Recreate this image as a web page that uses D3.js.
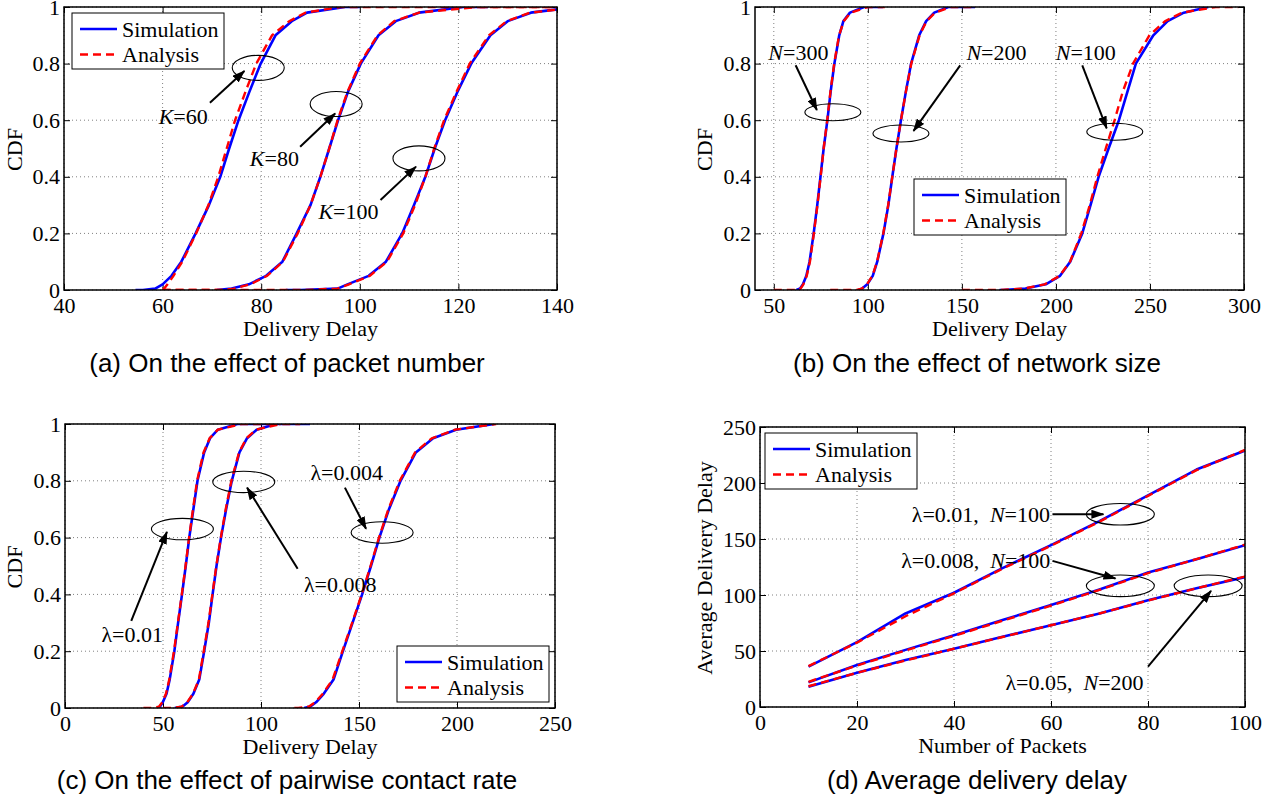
<!DOCTYPE html>
<html>
<head>
<meta charset="utf-8">
<script src="https://cdn.jsdelivr.net/npm/d3@7"></script>
<style>
  body { margin: 0; background: #fff; }
  svg { display: block; }
</style>
</head>
<body>
<svg id="fig" width="1277" height="802"></svg>
<script>
var SERIF = '"Liberation Serif", "Times New Roman", serif';
var SANS = '"Liberation Sans", Arial, sans-serif';

// CDF levels shared by every delay curve; each curve lists the delay where the level is reached
var cdfLevels = [0, 0.005, 0.02, 0.05, 0.1, 0.2, 0.3, 0.4, 0.5, 0.6, 0.7, 0.8, 0.9, 0.95, 0.98, 1];

// (a) packet number
var k60Sim = [56, 58.5, 60, 61.8, 63.8, 66.7, 69.4, 71.7, 73.5, 75.4, 77.6, 79.9, 82.9, 86.2, 89.3, 97];
var k60Ana = [60, 60.3, 61, 62.2, 64, 66.8, 69.3, 71.3, 73, 74.7, 76.8, 79, 82.2, 85.7, 89, 96];
var k80Sim = [71, 74, 77.5, 81, 84.3, 87.2, 90, 92, 93.8, 95.6, 97.6, 100.2, 103.8, 107.3, 112, 121];
var k80Ana = [72, 74.5, 77.8, 81.2, 84.4, 87.4, 90, 92, 93.8, 95.5, 97.5, 100, 103.6, 107, 112, 124];
var k100Sim = [88, 95.5, 97.5, 101.8, 105.3, 108.6, 111, 113.3, 115.2, 117.3, 119.8, 122.6, 126.5, 130, 134.7, 144];
var k100Ana = [89, 95.5, 97.8, 102, 105.5, 108.8, 111.2, 113.3, 115.1, 117.1, 119.6, 122.3, 126.2, 129.8, 134.5, 145];
// where each curve is drawn flat at 0 (start) and at 1 (end)
var k60SimSpan = [54.5, 100], k60AnaSpan = [60, 140];
var k80SimSpan = [71, 126], k80AnaSpan = [60, 140];
var k100SimSpan = [85, 144], k100AnaSpan = [60, 145];

// (b) network size
var n300Sim = [62, 64, 65.5, 67.3, 69, 71.2, 73.1, 74.8, 76.5, 78.5, 80.2, 82.2, 84.8, 87, 90.5, 98];
var n300Ana = [63, 64.2, 65.7, 67.5, 69.2, 71.3, 73.2, 74.9, 76.5, 78.4, 80.1, 82.1, 84.7, 87.2, 90.8, 100];
var n200Sim = [95, 97, 99.7, 102.6, 105, 108.3, 110.9, 113, 115.2, 117.6, 120.2, 123, 127.3, 131, 135.3, 142.8];
var n200Ana = [94, 96.8, 99.5, 102.4, 104.9, 108.2, 110.8, 113, 115.2, 117.6, 120.2, 123.1, 127.5, 131.2, 135.8, 144];
var n100Sim = [172, 183.8, 194.6, 202.2, 207.6, 214, 218.4, 222.7, 228, 233.5, 238, 242.5, 251.8, 259.4, 268, 281];
var n100Ana = [170, 183, 194, 202, 207.5, 213.5, 218, 222, 226.5, 231.2, 235.5, 241, 249.7, 258, 267, 285];
var n300SimSpan = [62, 108], n300AnaSpan = [50, 109];
var n200SimSpan = [95, 157], n200AnaSpan = [80, 157];
var n100SimSpan = [170, 281], n100AnaSpan = [150, 297];

// (c) pairwise contact rate
var l01Sim = [47, 48.5, 49.9, 51.8, 53.4, 55.8, 57.7, 59.7, 61.6, 63.4, 65.5, 67.6, 71, 74, 78, 88];
var l01Ana = [44, 48, 49.6, 51.5, 53.2, 55.6, 57.6, 59.6, 61.5, 63.3, 65.3, 67.4, 70.7, 73.8, 78, 90];
var l008Sim = [56, 60, 62.6, 65.5, 68.5, 71, 73.4, 75.3, 77.3, 79.6, 82.2, 85.1, 89, 92.9, 97.8, 107.6];
var l008Ana = [55, 59.5, 62.3, 65.3, 68.3, 70.8, 73.2, 75.2, 77.2, 79.5, 82, 84.9, 88.8, 92.6, 97.5, 110];
var l004Sim = [122, 125.2, 128.1, 132, 137, 141.8, 146.7, 151.6, 156.1, 160.4, 165.3, 171.2, 179, 187.8, 199.5, 219];
var l004Ana = [119, 124.5, 127.6, 131.5, 136.5, 141.5, 146.5, 151.4, 155.9, 160.2, 165, 170.8, 178.6, 187.2, 199, 220];
var l01SimSpan = [47, 104], l01AnaSpan = [40, 110];
var l008SimSpan = [56, 125], l008AnaSpan = [50, 120];
var l004SimSpan = [122, 219], l004AnaSpan = [117, 220];

// (d) average delivery delay
var packetCounts = [10, 20, 30, 40, 50, 60, 70, 80, 90, 100];
var d01Sim = [36, 58, 83.5, 102, 124, 144.5, 166, 189, 212, 229];
var d01Ana = [36.5, 57.5, 81, 101.5, 123.5, 144, 165.5, 188.5, 211.5, 229.5];
var d008Sim = [22, 37.5, 51, 64, 77.6, 91, 105, 120, 132, 144.5];
var d008Ana = [22.5, 37, 50.5, 63.5, 77, 90.5, 104.5, 119.5, 132, 145];
var d005Sim = [18, 30.6, 42, 52, 62.7, 73, 83.5, 95.4, 106, 116];
var d005Ana = [18.5, 30.5, 41.5, 52, 62.5, 73, 83.5, 95, 106, 116.5];

// ticks
var cdfTicks = [0, 0.2, 0.4, 0.6, 0.8, 1];
var aDelayTicks = [40, 60, 80, 100, 120, 140];
var bDelayTicks = [50, 100, 150, 200, 250, 300];
var cDelayTicks = [0, 50, 100, 150, 200, 250];
var packetTicks = [0, 20, 40, 60, 80, 100];
var avgDelayTicks = [0, 50, 100, 150, 200, 250];

var legendNames = ["Simulation", "Analysis"];

// annotations, in data coordinates
var aEllipses = [[79.4, 0.785], [95.2, 0.657], [112.0, 0.465]];
var aArrows = [[69.6, 0.662, 76.6, 0.774], [87.9, 0.506, 95.0, 0.624], [104.2, 0.318, 111.4, 0.436]];
var aLabels = [["K=60", 59.2, 0.586], ["K=80", 77.7, 0.438], ["K=100", 91.6, 0.25]];

var bEllipses = [[81.4, 0.628], [117.6, 0.553], [231.3, 0.559]];
var bArrows = [[61.6, 0.794, 72.9, 0.636], [149.1, 0.794, 124.3, 0.562], [214.0, 0.794, 227.0, 0.571]];
var bLabels = [["N=300", 47.1, 0.814], ["N=200", 152.4, 0.814], ["N=100", 199.9, 0.814]];

var cEllipses = [[59.9, 0.63], [91.2, 0.796], [161.8, 0.618]];
var cArrows = [[33.8, 0.307, 52.0, 0.62], [118.7, 0.49, 92.9, 0.776], [142.8, 0.776, 153.6, 0.631]];
var cLabels = [["λ=0.01", 18.6, 0.231], ["λ=0.008", 121.9, 0.408], ["λ=0.004", 125.2, 0.804]];

var dEllipses = [[74.3, 172.1], [74.3, 108.2], [92.4, 108.2]];
var dArrows = [[60.3, 172.1, 70.8, 172.1], [60.3, 130.5, 73.3, 114.7], [80.0, 36, 93.0, 103.7]];
var dLabels = [["λ=0.01,  N=100", 31.3, 165.3], ["λ=0.008,  N=100", 29.1, 123.7], ["λ=0.05,  N=200", 50.6, 15.2]];

function cdfPoints(delays, span) {
  var pts = [[span[0], 0]];
  delays.forEach(function(d, i) { pts.push([d, cdfLevels[i]]); });
  pts.push([span[1], 1]);
  return pts;
}

function xyPoints(xs, ys) {
  return xs.map(function(v, i) { return [v, ys[i]]; });
}

var svg = d3.select("#fig");
var defs = svg.append("defs");

defs.append("marker")
  .attr("id", "arrow-head")
  .attr("viewBox", "0 0 13 9")
  .attr("refX", 12)
  .attr("refY", 4.5)
  .attr("markerWidth", 13)
  .attr("markerHeight", 9)
  .attr("markerUnits", "userSpaceOnUse")
  .attr("orient", "auto")
  .append("path")
  .attr("d", "M0,0L13,4.5L0,9Z")
  .attr("fill", "#000");

function styleAxis(sel) {
  sel.select(".domain").remove();
  sel.selectAll(".tick line").attr("stroke", "#000").attr("stroke-width", 1);
  sel.selectAll(".tick text")
    .attr("fill", "#000")
    .style("font-family", SERIF)
    .style("font-size", "22px");
}

function richText(sel, str) {
  str.split(/([KN])/).filter(function(s) { return s.length; }).forEach(function(part) {
    sel.append("tspan")
      .style("font-style", /^[KN]$/.test(part) ? "italic" : "normal")
      .text(part);
  });
}

function drawPanel(p) {
  var x = d3.scaleLinear().domain(p.xDomain).range([p.left, p.right]);
  var y = d3.scaleLinear().domain(p.yDomain).range([p.bottom, p.top]);
  var g = svg.append("g").attr("class", "panel-" + p.name);

  defs.append("clipPath")
    .attr("id", "clip-" + p.name)
    .append("rect")
    .attr("x", p.left)
    .attr("y", p.top)
    .attr("width", p.right - p.left)
    .attr("height", p.bottom - p.top);

  // dotted grid
  var grid = g.append("g").attr("stroke", "#808080").attr("stroke-width", 1).attr("stroke-dasharray", "1,3");
  grid.selectAll(".gx").data(p.xTicks).join("line")
    .attr("x1", function(d) { return x(d); })
    .attr("x2", function(d) { return x(d); })
    .attr("y1", p.top)
    .attr("y2", p.bottom);
  grid.selectAll(".gy").data(p.yTicks).join("line")
    .attr("x1", p.left)
    .attr("x2", p.right)
    .attr("y1", function(d) { return y(d); })
    .attr("y2", function(d) { return y(d); });

  // inward ticks on all four sides
  g.append("g").attr("transform", "translate(0," + p.bottom + ")")
    .call(d3.axisBottom(x).tickValues(p.xTicks).tickSizeInner(-6).tickSizeOuter(0).tickPadding(7).tickFormat(String))
    .call(styleAxis);
  g.append("g").attr("transform", "translate(0," + p.top + ")")
    .call(d3.axisTop(x).tickValues(p.xTicks).tickSizeInner(-6).tickSizeOuter(0).tickFormat(""))
    .call(styleAxis);
  g.append("g").attr("transform", "translate(" + p.left + ",0)")
    .call(d3.axisLeft(y).tickValues(p.yTicks).tickSizeInner(-6).tickSizeOuter(0).tickPadding(4).tickFormat(String))
    .call(styleAxis);
  g.append("g").attr("transform", "translate(" + p.right + ",0)")
    .call(d3.axisRight(y).tickValues(p.yTicks).tickSizeInner(-6).tickSizeOuter(0).tickFormat(""))
    .call(styleAxis);

  // curves
  var line = d3.line()
    .x(function(d) { return x(d[0]); })
    .y(function(d) { return y(d[1]); });
  var curves = g.append("g").attr("clip-path", "url(#clip-" + p.name + ")");
  p.sim.forEach(function(pts) {
    curves.append("path").attr("d", line(pts))
      .attr("fill", "none").attr("stroke", "#0000ff").attr("stroke-width", 2.6)
      .attr("stroke-linejoin", "round");
  });
  p.ana.forEach(function(pts) {
    curves.append("path").attr("d", line(pts))
      .attr("fill", "none").attr("stroke", "#ff0000").attr("stroke-width", 2.4)
      .attr("stroke-dasharray", "8,5");
  });

  g.append("rect")
    .attr("x", p.left).attr("y", p.top)
    .attr("width", p.right - p.left).attr("height", p.bottom - p.top)
    .attr("fill", "none").attr("stroke", "#000").attr("stroke-width", 1.5);

  // annotations
  var notes = g.append("g");
  notes.selectAll("ellipse").data(p.ellipses).join("ellipse")
    .attr("cx", function(d) { return x(d[0]); })
    .attr("cy", function(d) { return y(d[1]); })
    .attr("rx", p.ellipseR[0])
    .attr("ry", p.ellipseR[1])
    .attr("fill", "none")
    .attr("stroke", "#000")
    .attr("stroke-width", 1.1);
  notes.selectAll("line").data(p.arrows).join("line")
    .attr("x1", function(d) { return x(d[0]); })
    .attr("y1", function(d) { return y(d[1]); })
    .attr("x2", function(d) { return x(d[2]); })
    .attr("y2", function(d) { return y(d[3]); })
    .attr("stroke", "#000")
    .attr("stroke-width", 2)
    .attr("marker-end", "url(#arrow-head)");
  p.labels.forEach(function(d) {
    var t = notes.append("text")
      .attr("x", x(d[1]))
      .attr("y", y(d[2]))
      .style("font-family", SERIF)
      .style("font-size", "22px")
      .style("white-space", "pre")
      .attr("fill", "#000");
    richText(t, d[0]);
  });

  // legend
  var lg = g.append("g");
  lg.append("rect")
    .attr("x", p.legend[0]).attr("y", p.legend[1])
    .attr("width", 152).attr("height", 56)
    .attr("fill", "#fff").attr("stroke", "#000").attr("stroke-width", 1);
  legendNames.forEach(function(name, i) {
    var ry = p.legend[1] + 16 + i * 25.5;
    lg.append("line")
      .attr("x1", p.legend[0] + 8).attr("x2", p.legend[0] + 45)
      .attr("y1", ry).attr("y2", ry)
      .attr("stroke", i === 0 ? "#0000ff" : "#ff0000")
      .attr("stroke-width", i === 0 ? 2.6 : 2.4)
      .attr("stroke-dasharray", i === 0 ? null : "8,5");
    lg.append("text")
      .attr("x", p.legend[0] + 50).attr("y", ry + 7.5)
      .style("font-family", SERIF).style("font-size", "22px")
      .attr("fill", "#000")
      .text(name);
  });

  // axis titles and caption
  g.append("text")
    .attr("x", (p.left + p.right) / 2).attr("y", p.bottom + 46)
    .attr("text-anchor", "middle")
    .style("font-family", SERIF).style("font-size", "22px")
    .text(p.xTitle);
  g.append("text")
    .attr("transform", "translate(" + (p.yTitleX + 7.5) + "," + ((p.top + p.bottom) / 2 + 1) + ") rotate(-90)")
    .attr("text-anchor", "middle")
    .style("font-family", SERIF).style("font-size", "22px")
    .text(p.yTitle);
  g.append("text")
    .attr("x", p.captionX).attr("y", p.captionY)
    .attr("text-anchor", "middle")
    .style("font-family", SANS).style("font-size", "26px")
    .text(p.caption);
}

drawPanel({
  name: "a", left: 64, right: 557, top: 7, bottom: 290,
  xDomain: [40, 140], yDomain: [0, 1], xTicks: aDelayTicks, yTicks: cdfTicks,
  sim: [cdfPoints(k60Sim, k60SimSpan), cdfPoints(k80Sim, k80SimSpan), cdfPoints(k100Sim, k100SimSpan)],
  ana: [cdfPoints(k60Ana, k60AnaSpan), cdfPoints(k80Ana, k80AnaSpan), cdfPoints(k100Ana, k100AnaSpan)],
  ellipses: aEllipses, ellipseR: [26, 12.5], arrows: aArrows, labels: aLabels,
  legend: [72, 13], xTitle: "Delivery Delay", yTitle: "CDF", yTitleX: 14,
  caption: "(a) On the effect of packet number", captionX: 287, captionY: 372
});

drawPanel({
  name: "b", left: 755, right: 1244, top: 7, bottom: 290,
  xDomain: [40, 300], yDomain: [0, 1], xTicks: bDelayTicks, yTicks: cdfTicks,
  sim: [cdfPoints(n300Sim, n300SimSpan), cdfPoints(n200Sim, n200SimSpan), cdfPoints(n100Sim, n100SimSpan)],
  ana: [cdfPoints(n300Ana, n300AnaSpan), cdfPoints(n200Ana, n200AnaSpan), cdfPoints(n100Ana, n100AnaSpan)],
  ellipses: bEllipses, ellipseR: [28, 8.5], arrows: bArrows, labels: bLabels,
  legend: [914, 179], xTitle: "Delivery Delay", yTitle: "CDF", yTitleX: 704,
  caption: "(b) On the effect of network size", captionX: 977, captionY: 372
});

drawPanel({
  name: "c", left: 65, right: 555, top: 424, bottom: 708,
  xDomain: [0, 250], yDomain: [0, 1], xTicks: cDelayTicks, yTicks: cdfTicks,
  sim: [cdfPoints(l01Sim, l01SimSpan), cdfPoints(l008Sim, l008SimSpan), cdfPoints(l004Sim, l004SimSpan)],
  ana: [cdfPoints(l01Ana, l01AnaSpan), cdfPoints(l008Ana, l008AnaSpan), cdfPoints(l004Ana, l004AnaSpan)],
  ellipses: cEllipses, ellipseR: [31, 10.7], arrows: cArrows, labels: cLabels,
  legend: [397, 646], xTitle: "Delivery Delay", yTitle: "CDF", yTitleX: 14,
  caption: "(c) On the effect of pairwise contact rate", captionX: 287, captionY: 789
});

drawPanel({
  name: "d", left: 760, right: 1245, top: 427, bottom: 707,
  xDomain: [0, 100], yDomain: [0, 250], xTicks: packetTicks, yTicks: avgDelayTicks,
  sim: [xyPoints(packetCounts, d01Sim), xyPoints(packetCounts, d008Sim), xyPoints(packetCounts, d005Sim)],
  ana: [xyPoints(packetCounts, d01Ana), xyPoints(packetCounts, d008Ana), xyPoints(packetCounts, d005Ana)],
  ellipses: dEllipses, ellipseR: [34, 10.8], arrows: dArrows, labels: dLabels,
  legend: [765, 433], xTitle: "Number of Packets", yTitle: "Average Delivery Delay", yTitleX: 704,
  caption: "(d) Average delivery delay", captionX: 977, captionY: 789
});
</script>
</body>
</html>
